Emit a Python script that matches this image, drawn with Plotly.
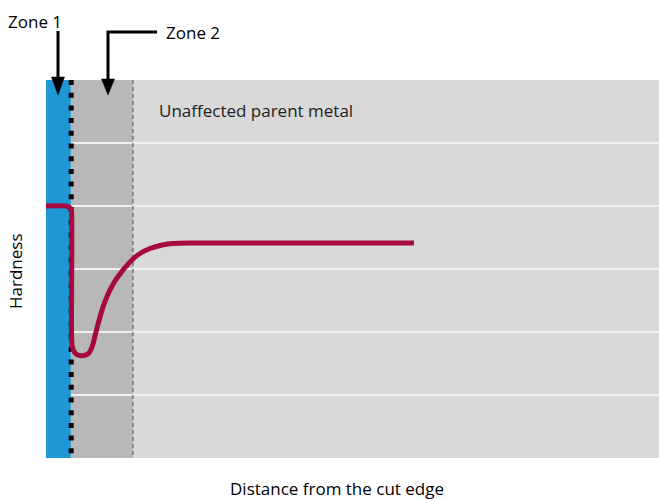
import plotly.graph_objects as go

# ---- data (arbitrary units: distance 0-100, hardness 0-6) ----
curve_x = [0, 3.26, 3.67, 4.00, 4.14, 4.19, 4.19, 4.27, 4.49, 4.89, 5.38, 6.04, 6.61,
           7.01, 7.34, 7.67, 7.99, 8.40, 8.81, 9.30, 9.79, 10.44, 11.26, 12.07, 13.05,
           14.19, 15.33, 16.97, 18.60, 20.23, 21.86, 23.49, 60.03]
curve_y = [4.000, 4.000, 3.987, 3.960, 3.929, 3.889, 1.873, 1.778, 1.706, 1.654, 1.630,
           1.625, 1.638, 1.670, 1.722, 1.810, 1.937, 2.095, 2.238, 2.397, 2.524, 2.667,
           2.810, 2.921, 3.040, 3.159, 3.246, 3.325, 3.373, 3.400, 3.410, 3.413, 3.413]
zone1_end = 4.05
zone1_line = 4.11
zone2_end = 14.19
x_range = [0, 100]
y_range = [0, 6]
grid_vals = [1, 2, 3, 4, 5]

labels = {
    "zone1": "Zone 1",
    "zone2": "Zone 2",
    "parent": "Unaffected parent metal",
    "ytitle": "Hardness",
    "xtitle": "Distance from the cut edge",
}

# ---- colours ----
BLUE = "#1f97d5"
GRAY = "#b8b8b9"
LIGHT = "#d9d9d9"
RED = "#a6093d"
FONT = "Open Sans"
FS = 17

W, H = 659, 499
ML, MR, MT, MB = 46, 0, 80, 41
PW, PH = W - ML - MR, H - MT - MB


def px(x):
    return (x - ML) / PW


def py(y):
    return (H - MB - y) / PH


fig = go.Figure()

# Zone 1 (blue) drawn above the grid
fig.add_trace(go.Scatter(
    x=[0, zone1_end, zone1_end, 0, 0], y=[y_range[0], y_range[0], y_range[1], y_range[1], y_range[0]],
    fill="toself", fillcolor=BLUE, mode="lines", line=dict(width=0, color=BLUE),
    hoverinfo="skip", showlegend=False))

# dashed boundary of zone 2
fig.add_trace(go.Scatter(
    x=[zone2_end, zone2_end], y=[y_range[1], y_range[0]], mode="lines",
    line=dict(color="#777777", width=1.5, dash="4px,3px"),
    hoverinfo="skip", showlegend=False))

# dotted boundary of zone 1
fig.add_trace(go.Scatter(
    x=[zone1_line, zone1_line], y=[y_range[1], y_range[0]], mode="lines",
    line=dict(color="black", width=5, dash="5px,7.7px"),
    hoverinfo="skip", showlegend=False))

# hardness curve
fig.add_trace(go.Scatter(
    x=curve_x, y=curve_y, mode="lines",
    line=dict(color=RED, width=5, shape="spline", smoothing=1),
    hoverinfo="skip", showlegend=False))

shapes = [
    dict(type="rect", xref="x", yref="y", x0=zone1_end, x1=zone2_end,
         y0=y_range[0], y1=y_range[1], fillcolor=GRAY, line=dict(width=0), layer="below"),
    # Zone 1 arrow
    dict(type="path", xref="paper", yref="paper",
         path=f"M{px(58)},{py(31)} L{px(58)},{py(80)}",
         line=dict(color="black", width=3), layer="above"),
    dict(type="path", xref="paper", yref="paper",
         path=f"M{px(51.5)},{py(77)} L{px(64.5)},{py(77)} L{px(58)},{py(95)} Z",
         fillcolor="black", line=dict(color="black", width=0.5), layer="above"),
    # Zone 2 arrow
    dict(type="path", xref="paper", yref="paper",
         path=f"M{px(157)},{py(32)} L{px(108)},{py(32)} L{px(108)},{py(82)}",
         line=dict(color="black", width=3), layer="above"),
    dict(type="path", xref="paper", yref="paper",
         path=f"M{px(101.5)},{py(79)} L{px(114.5)},{py(79)} L{px(108)},{py(95)} Z",
         fillcolor="black", line=dict(color="black", width=0.5), layer="above"),
]

annotations = [
    dict(text=labels["zone1"], xref="paper", yref="paper", x=px(34.5), y=py(21),
         xanchor="center", yanchor="middle", showarrow=False, font=dict(size=FS, color="black")),
    dict(text=labels["zone2"], xref="paper", yref="paper", x=px(164), y=py(32),
         xanchor="left", yanchor="middle", showarrow=False, font=dict(size=FS, color="black")),
    dict(text=labels["parent"], xref="paper", yref="paper", x=px(157), y=py(110),
         xanchor="left", yanchor="middle", showarrow=False, font=dict(size=FS, color="#222222")),
    dict(text=labels["ytitle"], xref="paper", yref="paper", x=px(15), y=py(271),
         xanchor="center", yanchor="middle", textangle=-90, showarrow=False,
         font=dict(size=FS, color="black")),
    dict(text=labels["xtitle"], xref="paper", yref="paper", x=px(337), y=py(488),
         xanchor="center", yanchor="middle", showarrow=False, font=dict(size=FS, color="black")),
]

fig.update_layout(
    width=W, height=H,
    margin=dict(l=ML, r=MR, t=MT, b=MB, pad=0),
    paper_bgcolor="white", plot_bgcolor=LIGHT,
    font=dict(family=FONT, size=FS, color="black"),
    shapes=shapes, annotations=annotations,
    xaxis=dict(range=x_range, showgrid=False, zeroline=False, showticklabels=False,
               ticks="", showline=False, fixedrange=True),
    yaxis=dict(range=y_range, tickvals=grid_vals, showgrid=True, gridcolor="#f0f0f0",
               gridwidth=2, zeroline=False, showticklabels=False, ticks="", showline=False,
               fixedrange=True),
)

fig.write_html(
    "out.html",
    config={"displayModeBar": False},
    post_script="document.body.style.margin='0';document.body.style.overflow='hidden';",
)
